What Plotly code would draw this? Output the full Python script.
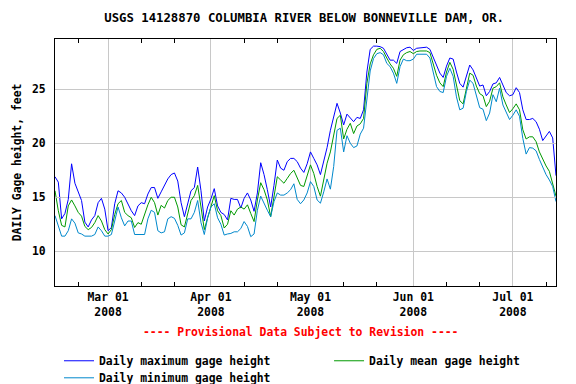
import plotly.graph_objects as go
import pandas as pd

title_text = "USGS 14128870 COLUMBIA RIVER BELOW BONNEVILLE DAM, OR."
y_label = "DAILY Gage height, feet"
provisional = "---- Provisional Data Subject to Revision ----"
start_date = "2008-02-14"
month_ticks = ["2008-03-01", "2008-04-01", "2008-05-01", "2008-06-01", "2008-07-01"]
month_labels = ["Mar 01<br>2008", "Apr 01<br>2008", "May 01<br>2008", "Jun 01<br>2008", "Jul 01<br>2008"]
minor_ticks = ["2008-02-21", "2008-03-11", "2008-03-21", "2008-04-11", "2008-04-21",
               "2008-05-11", "2008-05-21", "2008-06-11", "2008-06-21", "2008-07-11"]
y_ticks = [10, 15, 20, 25]

daily_max = [
    16.9, 16.4, 13.0, 13.5, 14.8, 18.1, 16.3, 15.4, 14.7, 12.7, 12.25, 12.9, 13.3, 14.5, 14.9, 13.9,
    11.9, 12.2, 14.4, 15.6, 15.4, 15.0, 14.4, 13.75, 13.3, 14.2,
    14.5, 14.4, 15.3, 15.9, 15.9, 14.9, 15.5, 16.15, 16.7, 17.1, 17.25, 16.5, 14.5, 13.2, 14.5, 15.6,
    15.9, 17.8, 15.6, 12.8, 14.1, 14.85, 15.8, 14.2, 13.6, 13.4,
    12.9, 14.9, 14.8, 14.8, 14.0, 14.9, 15.4, 14.75, 13.7, 15.4, 18.2, 17.1, 15.7, 14.1, 16.1, 18.45,
    17.7, 17.5, 18.3, 18.6, 18.6, 18.3, 17.7, 17.3, 18.1,
    19.2, 18.6, 18.0, 17.1, 18.3, 19.6, 21.2, 22.5, 23.7, 22.8, 21.7, 22.7, 22.3, 22.0, 22.4, 22.3,
    23.1, 26.6, 28.7, 29.0, 29.0, 28.95, 28.8, 28.2, 27.7,
    27.7, 27.4, 28.5, 28.7, 28.85, 28.9, 28.6, 28.8, 28.85, 28.9, 28.9, 28.7, 27.95, 27.1, 26.5, 26.1,
    27.15, 27.9, 27.8, 26.6, 25.55, 25.2, 26.3, 27.25, 26.8,
    26.0, 25.3, 25.4, 24.4, 24.8, 25.5, 25.6, 26.1, 25.4, 24.7, 24.4, 24.5, 25.15, 24.7, 23.1, 22.2,
    22.2, 22.3, 22.0, 21.3, 20.25, 20.7, 21.1, 20.5, 17.0,
]
daily_mean = [
    15.6, 13.75, 12.4, 12.25, 14.2, 14.75, 14.2, 13.6, 13.25, 12.3, 12.0, 12.2, 12.65, 13.3, 12.8, 12.0,
    11.6, 12.0, 13.4, 14.4, 14.7, 13.6, 13.3, 13.1, 12.2, 12.65,
    12.5, 13.5, 14.3, 15.0, 14.5, 13.35, 14.25, 14.0, 14.7, 15.0, 15.0, 14.1, 12.45, 12.25, 13.6, 14.7,
    15.15, 16.1, 14.1, 12.0, 13.1, 14.25, 15.15, 13.75, 13.3, 12.15,
    12.5, 13.75, 13.35, 13.9, 14.1, 13.9, 14.3, 13.5, 12.75, 14.75, 16.35, 15.7, 14.75, 13.2, 15.2, 16.9,
    16.6, 16.3, 16.75, 17.2, 17.5, 16.75, 16.1, 16.0, 16.9,
    18.0, 17.2, 16.0, 15.1, 16.75, 18.15, 19.2, 20.6, 22.3, 22.6, 20.4, 21.3, 21.85, 20.9, 21.6, 21.8,
    22.3, 25.55, 27.35, 28.2, 28.7, 28.8, 28.5, 27.9, 27.35,
    26.95, 26.2, 27.7, 28.2, 28.4, 28.5, 28.3, 28.5, 28.55, 28.55, 28.55, 28.4, 27.35, 26.3, 25.6, 25.25,
    26.6, 27.5, 26.85, 25.25, 23.95, 23.65, 25.0, 26.5, 26.3,
    25.3, 24.6, 24.4, 23.4, 23.9, 25.1, 25.25, 25.6, 24.3, 23.55, 22.85, 23.2, 23.65, 23.1, 21.25, 20.4,
    20.6, 20.6, 20.15, 19.2, 18.5, 17.9, 17.4, 16.3, 15.1,
]
daily_min = [
    13.3, 12.35, 11.4, 11.4, 11.9, 13.0, 12.6, 11.7, 11.6, 11.4, 11.4, 11.4, 11.55, 12.25, 11.9, 11.4,
    11.4, 11.55, 12.8, 14.1, 13.1, 12.35, 12.8, 12.8, 11.55, 11.55,
    11.55, 11.55, 13.0, 13.8, 13.6, 11.9, 11.7, 11.8, 13.0, 13.2, 13.05, 12.4, 11.5, 11.7, 13.0, 13.0,
    13.6, 14.7, 12.65, 11.55, 13.1, 14.1, 14.4, 13.1, 12.5, 11.5,
    11.6, 11.65, 11.8, 11.8, 12.1, 12.75, 12.3, 11.35, 11.6, 13.8, 15.1, 14.4, 13.8, 13.2, 14.6, 15.4,
    15.2, 15.2, 15.4, 15.7, 16.25, 14.8, 14.4, 14.75, 15.4,
    16.45, 16.0, 14.75, 14.45, 15.5, 16.7, 15.75, 17.85, 21.2, 21.4, 19.2, 20.7, 20.0, 19.6, 19.75, 20.85,
    21.4, 24.2, 26.7, 27.85, 28.3, 28.4, 28.2, 27.4, 27.1,
    26.5, 25.55, 27.1, 27.8, 27.65, 27.65, 27.8, 28.25, 28.25, 28.25, 28.25, 27.9, 26.65, 25.25, 24.8, 24.7,
    26.2, 26.95, 26.2, 24.3, 23.1, 23.25, 24.8, 25.85, 25.55,
    24.4, 23.3, 23.15, 22.1, 22.8, 24.5, 23.85, 25.1, 23.55, 22.9, 22.2, 22.6, 23.1, 22.5, 20.45, 19.0,
    19.6, 19.55, 19.3, 18.5, 17.75, 17.1, 16.6, 16.0, 14.6,
]

dates = pd.date_range(start_date, periods=len(daily_max), freq="D")

FONT = "DejaVu Sans Mono"
fig = go.Figure()
fig.add_trace(go.Scatter(x=dates, y=daily_max, mode="lines", name="Daily maximum gage height",
                         line=dict(color="#0000ff", width=1), legend="legend"))
fig.add_trace(go.Scatter(x=dates, y=daily_mean, mode="lines", name="Daily mean gage height",
                         line=dict(color="#009900", width=1), legend="legend2"))
fig.add_trace(go.Scatter(x=dates, y=daily_min, mode="lines", name="Daily minimum gage height",
                         line=dict(color="#0088cc", width=1), legend="legend3"))

legend_font = dict(family=FONT, size=11.4, color="black", weight="bold")
fig.update_layout(
    width=576, height=384,
    margin=dict(l=55, r=20, t=39, b=98, autoexpand=False),
    paper_bgcolor="white", plot_bgcolor="white",
    font=dict(family=FONT, size=11, color="black", weight="bold"),
    title=dict(text=title_text, x=0.528, xanchor="center", y=0.955, yanchor="middle",
               font=dict(family=FONT, size=12.3, color="black", weight="bold")),
    showlegend=True,
    legend=dict(orientation="v", x=0.008, xanchor="left", y=-0.244, yanchor="top",
                font=legend_font, bgcolor="rgba(0,0,0,0)"),
    legend2=dict(orientation="v", x=0.547, xanchor="left", y=-0.244, yanchor="top",
                 font=legend_font, bgcolor="rgba(0,0,0,0)"),
    legend3=dict(orientation="v", x=0.008, xanchor="left", y=-0.313, yanchor="top",
                 font=legend_font, bgcolor="rgba(0,0,0,0)"),
    annotations=[dict(text=provisional, xref="paper", yref="paper", x=0.49, y=-0.186,
                      xanchor="center", yanchor="middle", showarrow=False,
                      font=dict(family=FONT, size=11.4, color="red", weight="bold"))],
)
fig.update_xaxes(
    range=[dates[0], dates[-1]],
    tickmode="array", tickvals=month_ticks, ticktext=month_labels,
    ticks="inside", ticklen=5, tickcolor="#c8c8c8",
    showgrid=True, gridcolor="#c8c8c8", gridwidth=1,
    showline=True, linecolor="black", linewidth=1, mirror="ticks",
    minor=dict(tickmode="array", tickvals=minor_ticks, ticks="inside", ticklen=4,
               tickcolor="black", showgrid=False),
    tickfont=dict(family=FONT, size=11.4, weight="bold"),
    zeroline=False,
)
fig.update_yaxes(
    range=[6.78, 29.66],
    tickmode="array", tickvals=y_ticks,
    ticks="inside", ticklen=5, tickcolor="#c8c8c8",
    showgrid=True, gridcolor="#c8c8c8", gridwidth=1,
    showline=True, linecolor="black", linewidth=1, mirror="ticks",
    ticklabelstandoff=6,
    tickfont=dict(family=FONT, size=11.4, weight="bold"),
    title=dict(text=y_label, standoff=8, font=dict(family=FONT, size=11.4, weight="bold")),
    zeroline=False,
)
fig.write_html("out.html", config={"displayModeBar": False},
               post_script="document.body.style.margin='0px';")
